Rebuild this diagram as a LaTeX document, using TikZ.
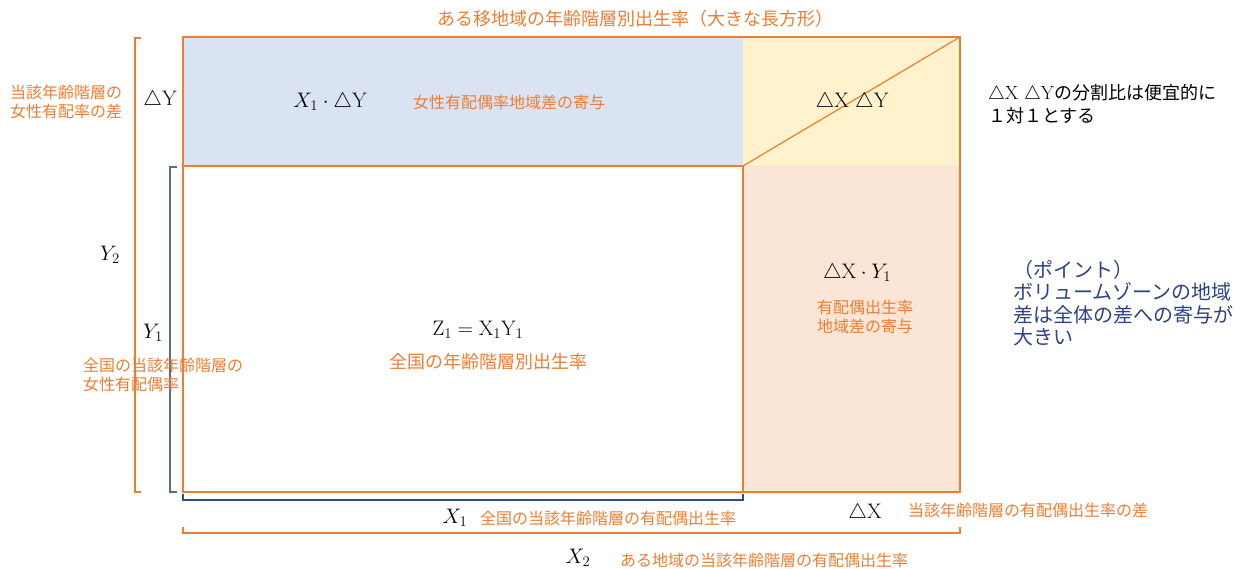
\documentclass[tikz,border=0pt]{standalone}
\usepackage{fix-cm}
\usepackage{fontspec}
\newfontfamily\jp{Noto Sans CJK JP}
\definecolor{org}{HTML}{ED7D31}
\definecolor{bluef}{HTML}{DAE3F3}
\definecolor{yelf}{HTML}{FFF2CC}
\definecolor{peachf}{HTML}{FBE5D6}
\definecolor{brblue}{HTML}{5A6B8C}
\definecolor{navyb}{HTML}{2F4B8C}
\definecolor{ptxt}{HTML}{2E4283}
\tikzset{
  otxt/.style={text=org, inner sep=0pt, font=\jp\fontsize{16}{19}\selectfont, align=left},
  mtxt/.style={inner sep=0pt, font=\fontsize{21}{25}\selectfont},
  frame/.style={draw=org, line width=2pt},
  obr/.style={draw=org, line width=1.5pt},
}
\begin{document}
\begin{tikzpicture}[x=1pt,y=-1pt]
\useasboundingbox (0,0) rectangle (1250,569);
% regions
\fill[bluef] (183,37) rectangle (743,166);
\fill[yelf] (743,37) rectangle (960,166);
\fill[peachf] (743,166) rectangle (960,492);
\draw[frame] (183,166) rectangle (743,492);
\draw[frame] (183,37) rectangle (960,492);
\coordinate (dA) at (743,166);
\coordinate (dB) at (960,37);
\draw[draw=org, line width=1.2pt] (dA) -- (dB);
% brackets
\draw[obr] (141,38) -- (135,38) -- (135,492) -- (141,492);
\draw[draw=brblue, line width=1.5pt] (177,167) -- (170,167) -- (170,492) -- (177,492);
\draw[draw=navyb, line width=1.2pt] (183,494) -- (183,500) -- (743,500) -- (743,494);
\draw[obr] (183,527) -- (183,533) -- (960,533) -- (960,527);
% title
\node[otxt, font=\jp\fontsize{18}{22}\selectfont] (title) at (635,19) {ある移地域の年齢階層別出生率（大きな長方形）};
% left labels
\node[otxt, anchor=west] (lt) at (10,102) {当該年齢階層の\\女性有配率の差};
\node[mtxt] (dY) at (160,100) {$\triangle\mathrm{Y}$};
\node[mtxt] (Y2) at (110,255) {$Y_2$};
\node[mtxt] (Y1) at (153,333) {$Y_1$};
\node[otxt, anchor=west] (lb) at (83,375) {全国の当該年齢階層の\\女性有配偶率};
% top band
\node[mtxt] (x1dy) at (330,102) {$X_1\cdot\triangle\mathrm{Y}$};
\node[otxt, anchor=west] (fem) at (413,102) {女性有配偶率地域差の寄与};
\node[mtxt] (dxdy) at (852,102) {$\triangle\mathrm{X}\ \triangle\mathrm{Y}$};
% center
\node[mtxt] (z1) at (478,330) {$\mathrm{Z}_1=\mathrm{X}_1\mathrm{Y}_1$};
\node[otxt, font=\jp\fontsize{18}{22}\selectfont] (zn) at (488,362) {全国の年齢階層別出生率};
% right band
\node[mtxt] (dxy1) at (857,273) {$\triangle\mathrm{X}\cdot Y_1$};
\node[otxt, anchor=west] (yh) at (817,317) {有配偶出生率\\地域差の寄与};
% notes
\node[inner sep=0pt, anchor=west, align=left, font=\jp\fontsize{18}{23}\selectfont] (note) at (988,104) {{\rmfamily\fontsize{19}{23}\selectfont$\triangle$X $\triangle$Y}の分割比は便宜的に\\１対１とする};
\node[inner sep=0pt, anchor=west, align=left, text=ptxt, font=\jp\fontsize{20}{22.5}\selectfont] (pt) at (1013,303) {（ポイント）\\ボリュームゾーンの地域\\差は全体の差への寄与が\\大きい};
% bottom
\node[mtxt] (X1) at (455,518) {$X_1$};
\node[otxt, anchor=west] (x1t) at (480,518) {全国の当該年齢階層の有配偶出生率};
\node[mtxt] (dX) at (865,513) {$\triangle\mathrm{X}$};
\node[otxt, anchor=west] (dxt) at (908,510) {当該年齢階層の有配偶出生率の差};
\node[mtxt] (X2) at (578,558) {$X_2$};
\node[otxt, anchor=west] (x2t) at (620,560) {ある地域の当該年齢階層の有配偶出生率};
\end{tikzpicture}
\end{document}
